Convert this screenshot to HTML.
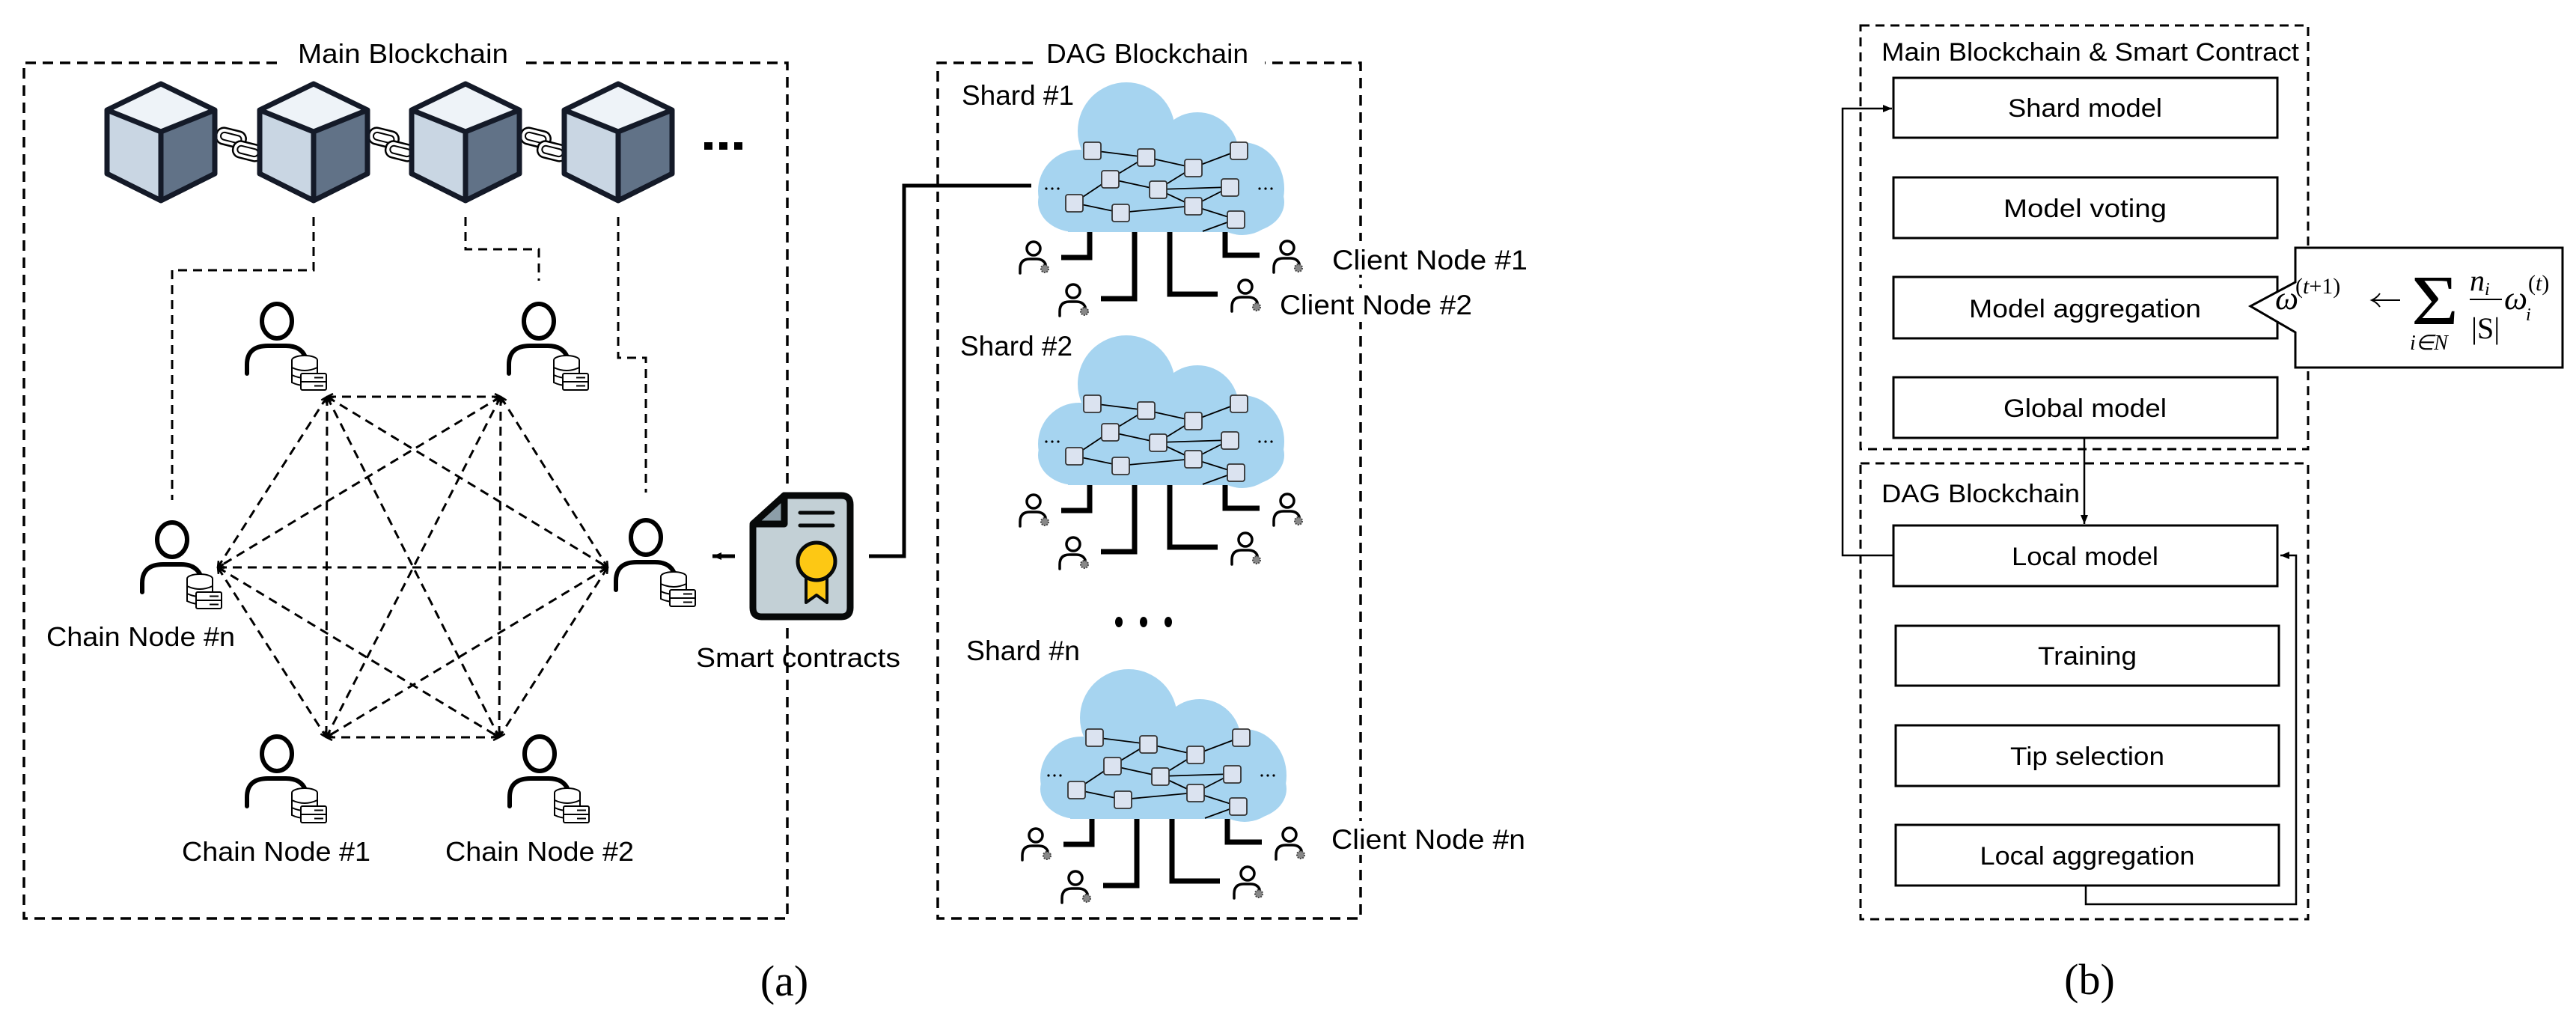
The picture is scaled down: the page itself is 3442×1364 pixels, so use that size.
<!DOCTYPE html>
<html><head><meta charset="utf-8"><style>
html,body{margin:0;padding:0;background:#fff;}
svg{display:block;}
text{font-family:"Liberation Sans",sans-serif;fill:#000;}
text.serif,.serif text{font-family:"Liberation Serif",serif;}
</style></head><body>
<svg width="3442" height="1364" viewBox="0 0 3442 1364" xmlns="http://www.w3.org/2000/svg">
<defs>
  <marker id="ah" markerWidth="10" markerHeight="10" refX="9" refY="5" orient="auto-start-reverse" markerUnits="userSpaceOnUse">
    <path d="M1,1 L9,5 L1,9" fill="none" stroke="#000" stroke-width="2.5"/>
  </marker>
  <marker id="af" markerWidth="14" markerHeight="14" refX="12" refY="7" orient="auto" markerUnits="userSpaceOnUse">
    <path d="M0,2 L12,7 L0,12 z" fill="#000"/>
  </marker>
  <g id="cube">
    <path d="M0,0 L72,35 L0,64 L-72,35 Z" fill="#eef3f8"/>
    <path d="M-72,35 L0,64 L0,156 L-72,120 Z" fill="#c9d6e3"/>
    <path d="M0,64 L72,35 L72,120 L0,156 Z" fill="#617287"/>
    <path d="M0,0 L72,35 L72,120 L0,156 L-72,120 L-72,35 Z M-72,35 L0,64 L72,35 M0,64 L0,156" fill="none" stroke="#141a28" stroke-width="7" stroke-linejoin="round"/>
  </g>
  <g id="links">
    <g transform="rotate(14 0 0)">
      <rect x="-4" y="-16" width="40" height="22" rx="10" fill="#fff" stroke="#000" stroke-width="2.5"/>
      <rect x="2" y="-10" width="28" height="10" rx="5" fill="none" stroke="#000" stroke-width="2"/>
      <rect x="22" y="-4" width="40" height="22" rx="10" fill="#fff" stroke="#000" stroke-width="2.5"/>
      <rect x="28" y="2" width="28" height="10" rx="5" fill="none" stroke="#000" stroke-width="2"/>
    </g>
  </g>
  <g id="bigperson">
    <ellipse cx="0" cy="0" rx="20" ry="23" fill="none" stroke="#000" stroke-width="6"/>
    <path d="M-40,70 L-40,58 Q-40,33 -12,33 L12,33 Q32,33 38,48" fill="none" stroke="#000" stroke-width="6" stroke-linecap="round"/>
    <g transform="translate(20,46)" fill="#fff" stroke="#000" stroke-width="2">
      <ellipse cx="17" cy="6" rx="17" ry="6"/>
      <path d="M0,6 V36 Q17,44 34,36 V6"/>
      <path d="M0,16 Q17,24 34,16 M0,26 Q17,34 34,26"/>
      <rect x="12" y="24" width="34" height="22" rx="2"/>
      <line x1="12" y1="35" x2="46" y2="35"/>
      <line x1="30" y1="29.5" x2="42" y2="29.5"/><line x1="30" y1="40.5" x2="42" y2="40.5"/>
    </g>
  </g>
  <g id="sperson">
    <circle cx="0" cy="0" r="9" fill="none" stroke="#000" stroke-width="3.5"/>
    <path d="M-18,33 L-18,27 Q-18,14 -5,14 L4,14 Q13,14 16,21" fill="none" stroke="#000" stroke-width="3.5" stroke-linecap="round"/>
    <circle cx="15" cy="27" r="5" fill="#888" stroke="#444" stroke-width="2" stroke-dasharray="2 1.5"/>
  </g>
  <g id="cloud">
    <circle cx="118" cy="65" r="65" fill="#a6d4f0"/>
    <circle cx="213" cy="95" r="55" fill="#a6d4f0"/>
    <ellipse cx="273" cy="142" rx="56" ry="62" fill="#a6d4f0"/>
    <circle cx="55" cy="145" r="55" fill="#a6d4f0"/>
    <rect x="0" y="120" width="329" height="80" rx="50" fill="#a6d4f0"/>
    <rect x="40" y="110" width="250" height="90" fill="#a6d4f0"/>
    <g stroke="#000" stroke-width="1.8" fill="none">
      <line x1="144" y1="100" x2="72" y2="91"/>
      <line x1="207" y1="114" x2="144" y2="100"/>
      <line x1="268" y1="91" x2="207" y2="114"/>
      <line x1="96" y1="129" x2="144" y2="100"/>
      <line x1="160" y1="143" x2="96" y2="129"/>
      <line x1="160" y1="143" x2="207" y2="114"/>
      <line x1="256" y1="140" x2="160" y2="143"/>
      <line x1="48" y1="161" x2="96" y2="129"/>
      <line x1="110" y1="174" x2="48" y2="161"/>
      <line x1="207" y1="165" x2="110" y2="174"/>
      <line x1="207" y1="165" x2="160" y2="143"/>
      <line x1="256" y1="140" x2="207" y2="165"/>
      <line x1="264" y1="183" x2="207" y2="165"/>
      <line x1="264" y1="183" x2="220" y2="199"/>
    </g>
    <g fill="#dbe3f0" stroke="#333" stroke-width="1.8">
      <rect x="61" y="80" width="23" height="23" rx="3"/>
      <rect x="133" y="89" width="23" height="23" rx="3"/>
      <rect x="196" y="103" width="23" height="23" rx="3"/>
      <rect x="257" y="80" width="23" height="23" rx="3"/>
      <rect x="85" y="118" width="23" height="23" rx="3"/>
      <rect x="149" y="132" width="23" height="23" rx="3"/>
      <rect x="245" y="129" width="23" height="23" rx="3"/>
      <rect x="37" y="150" width="23" height="23" rx="3"/>
      <rect x="99" y="163" width="23" height="23" rx="3"/>
      <rect x="196" y="154" width="23" height="23" rx="3"/>
      <rect x="253" y="172" width="23" height="23" rx="3"/>
    </g>
    <g fill="#000">
      <circle cx="11" cy="142" r="1.6"/><circle cx="19" cy="142" r="1.6"/><circle cx="27" cy="142" r="1.6"/>
      <circle cx="296" cy="142" r="1.6"/><circle cx="304" cy="142" r="1.6"/><circle cx="312" cy="142" r="1.6"/>
    </g>
    <g fill="none" stroke="#000" stroke-width="7">
      <path d="M69,200 V234 H31"/>
      <path d="M129,200 V289 H84"/>
      <path d="M176,200 V283 H240"/>
      <path d="M250,200 V231 H296"/>
    </g>
    <use href="#sperson" x="-6" y="222"/>
    <use href="#sperson" x="47" y="279"/>
    <use href="#sperson" x="277" y="273"/>
    <use href="#sperson" x="333" y="221"/>
  </g>
</defs>

<path d="M370,84 H32 V1227 H1052 V84 H700" fill="none" stroke="#000" stroke-width="3.5" stroke-dasharray="14 9"/>
<text x="398" y="84" font-size="36" textLength="281" lengthAdjust="spacingAndGlyphs">Main Blockchain</text>

<use href="#links" x="292" y="185"/>
<use href="#links" x="496" y="185"/>
<use href="#links" x="699" y="185"/>
<use href="#cube" x="215" y="112"/>
<use href="#cube" x="419" y="112"/>
<use href="#cube" x="622" y="112"/>
<use href="#cube" x="826" y="112"/>
<g fill="#000"><rect x="941" y="190" width="11" height="10"/><rect x="961" y="190" width="11" height="10"/><rect x="981" y="190" width="11" height="10"/></g>

<g fill="none" stroke="#000" stroke-width="3" stroke-dasharray="12 8">
  <path d="M419,290 V361 H230 V668"/>
  <path d="M622,290 V333 H720 V375"/>
  <path d="M826,290 V478 H863 V658"/>
</g>

<g fill="none" stroke="#000" stroke-width="3" stroke-dasharray="12 8" marker-start="url(#ah)" marker-end="url(#ah)">
  <line x1="437" y1="530" x2="669" y2="530"/>
  <line x1="437" y1="530" x2="291" y2="758"/>
  <line x1="437" y1="530" x2="812" y2="758"/>
  <line x1="437" y1="530" x2="436" y2="985"/>
  <line x1="437" y1="530" x2="667" y2="985"/>
  <line x1="669" y1="530" x2="291" y2="758"/>
  <line x1="669" y1="530" x2="812" y2="758"/>
  <line x1="669" y1="530" x2="436" y2="985"/>
  <line x1="669" y1="530" x2="667" y2="985"/>
  <line x1="291" y1="758" x2="812" y2="758"/>
  <line x1="291" y1="758" x2="436" y2="985"/>
  <line x1="291" y1="758" x2="667" y2="985"/>
  <line x1="812" y1="758" x2="436" y2="985"/>
  <line x1="812" y1="758" x2="667" y2="985"/>
  <line x1="436" y1="985" x2="667" y2="985"/>
</g>

<use href="#bigperson" x="370" y="429"/>
<use href="#bigperson" x="720" y="429"/>
<use href="#bigperson" x="230" y="721"/>
<use href="#bigperson" x="863" y="718"/>
<use href="#bigperson" x="370" y="1007"/>
<use href="#bigperson" x="721" y="1007"/>

<text x="62" y="863" font-size="36" textLength="252" lengthAdjust="spacingAndGlyphs">Chain Node #n</text>
<text x="243" y="1150" font-size="36" textLength="252" lengthAdjust="spacingAndGlyphs">Chain Node #1</text>
<text x="595" y="1150" font-size="36" textLength="252" lengthAdjust="spacingAndGlyphs">Chain Node #2</text>

<rect x="1040" y="655" width="30" height="180" fill="#fff"/>
<path d="M1048,662 H1124 Q1136,662 1136,674 V812 Q1136,824 1124,824 H1018 Q1006,824 1006,812 V702 Z" fill="#c3d0d6" stroke="#070909" stroke-width="9" stroke-linejoin="round"/>
<path d="M1048,662 V700 H1006 Z" fill="#8c9ea8" stroke="#070909" stroke-width="9" stroke-linejoin="round"/>
<line x1="1069" y1="685" x2="1113" y2="685" stroke="#070909" stroke-width="5" stroke-linecap="round"/>
<line x1="1069" y1="702" x2="1113" y2="702" stroke="#070909" stroke-width="5" stroke-linecap="round"/>
<path d="M1077,765 V805 L1091,795 L1105,805 V765 Z" fill="#fdc814" stroke="#070909" stroke-width="4" stroke-linejoin="round"/>
<circle cx="1091" cy="750" r="25" fill="#fdc814" stroke="#070909" stroke-width="5"/>
<line x1="982" y1="743" x2="952" y2="743" stroke="#000" stroke-width="5" marker-end="url(#af)"/>
<text x="930" y="891" font-size="36" textLength="273" lengthAdjust="spacingAndGlyphs">Smart contracts</text>
<path d="M1161,743 H1208 V248 H1378" fill="none" stroke="#000" stroke-width="5"/>

<path d="M1380,84 H1253 V1227 H1818 V84 H1690" fill="none" stroke="#000" stroke-width="3.5" stroke-dasharray="14 9"/>
<text x="1398" y="84" font-size="36" textLength="270" lengthAdjust="spacingAndGlyphs">DAG Blockchain</text>
<text x="1285" y="140" font-size="37" textLength="150" lengthAdjust="spacingAndGlyphs">Shard #1</text>
<text x="1283" y="475" font-size="37" textLength="150" lengthAdjust="spacingAndGlyphs">Shard #2</text>
<text x="1291" y="882" font-size="37" textLength="152" lengthAdjust="spacingAndGlyphs">Shard #n</text>
<g fill="#000"><ellipse cx="1495" cy="831" rx="5" ry="7"/><ellipse cx="1528" cy="831" rx="5" ry="7"/><ellipse cx="1561" cy="831" rx="5" ry="7"/></g>

<use href="#cloud" x="1387" y="110"/>
<use href="#cloud" x="1387" y="448"/>
<use href="#cloud" x="1390" y="894"/>

<rect x="1775" y="322" width="270" height="45" fill="#fff"/>
<text x="1780" y="360" font-size="37" textLength="261" lengthAdjust="spacingAndGlyphs">Client Node #1</text>
<rect x="1705" y="385" width="265" height="45" fill="#fff"/>
<text x="1710" y="420" font-size="37" textLength="257" lengthAdjust="spacingAndGlyphs">Client Node #2</text>
<rect x="1773" y="1097" width="270" height="45" fill="#fff"/>
<text x="1779" y="1134" font-size="37" textLength="259" lengthAdjust="spacingAndGlyphs">Client Node #n</text>

<text x="1048" y="1330" font-size="58" text-anchor="middle" class="serif">(a)</text>

<rect x="2486" y="34" width="598" height="566" fill="none" stroke="#000" stroke-width="3" stroke-dasharray="12 8"/>
<rect x="2486" y="619" width="598" height="609" fill="none" stroke="#000" stroke-width="3" stroke-dasharray="12 8"/>
<text x="2514" y="81" font-size="34" textLength="558" lengthAdjust="spacingAndGlyphs">Main Blockchain &amp; Smart Contract</text>
<text x="2514" y="671" font-size="34" textLength="265" lengthAdjust="spacingAndGlyphs">DAG Blockchain</text>

<g fill="#fff" stroke="#000" stroke-width="3">
  <rect x="2530" y="104" width="513" height="80"/>
  <rect x="2530" y="237" width="513" height="81"/>
  <rect x="2530" y="370" width="513" height="82"/>
  <rect x="2530" y="504" width="513" height="81"/>
  <rect x="2530" y="702" width="513" height="81"/>
  <rect x="2533" y="836" width="512" height="80"/>
  <rect x="2533" y="969" width="512" height="81"/>
  <rect x="2533" y="1102" width="512" height="81"/>
</g>
<g font-size="34" text-anchor="middle">
  <text x="2786" y="156" textLength="206" lengthAdjust="spacingAndGlyphs">Shard model</text>
  <text x="2786" y="290" textLength="218" lengthAdjust="spacingAndGlyphs">Model voting</text>
  <text x="2786" y="424" textLength="310" lengthAdjust="spacingAndGlyphs">Model aggregation</text>
  <text x="2786" y="557" textLength="218" lengthAdjust="spacingAndGlyphs">Global model</text>
  <text x="2786" y="755" textLength="196" lengthAdjust="spacingAndGlyphs">Local model</text>
  <text x="2789" y="888" textLength="132" lengthAdjust="spacingAndGlyphs">Training</text>
  <text x="2789" y="1022" textLength="206" lengthAdjust="spacingAndGlyphs">Tip selection</text>
  <text x="2789" y="1155" textLength="287" lengthAdjust="spacingAndGlyphs">Local aggregation</text>
</g>

<g fill="none" stroke="#000" stroke-width="2.5">
  <line x1="2785" y1="585" x2="2785" y2="700" marker-end="url(#af)"/>
  <path d="M2530,742 H2462 V145 H2528" marker-end="url(#af)"/>
  <path d="M2787,1183 V1208 H3068 V742 H3047" marker-end="url(#af)"/>
</g>

<path d="M3067,331 H3424 V491 H3067 V444 L3007,409 L3067,377 Z" fill="#fff" stroke="#000" stroke-width="3"/>
<g class="serif">
  <text x="3040" y="413" font-size="44" font-style="italic">ω</text>
  <text x="3067" y="392" font-size="30">(<tspan font-style="italic">t</tspan>+1)</text>
  <line x1="3207" y1="401" x2="3170" y2="401" stroke="#000" stroke-width="2"/>
  <path d="M3180,392 Q3176,398 3169,401 Q3176,404 3180,410" fill="none" stroke="#000" stroke-width="2"/>
  <text x="3222" y="433" font-size="94" textLength="63" lengthAdjust="spacingAndGlyphs">Σ</text>
  <text x="3220" y="467" font-size="28" font-style="italic">i∈N</text>
  <text x="3300" y="388" font-size="40" font-style="italic">n<tspan font-size="24" dy="6">i</tspan></text>
  <line x1="3300" y1="400" x2="3343" y2="400" stroke="#000" stroke-width="2"/>
  <text x="3302" y="452" font-size="40">|S|</text>
  <text x="3346" y="413" font-size="44" font-style="italic">ω</text>
  <text x="3375" y="428" font-size="24" font-style="italic">i</text>
  <text x="3378" y="388" font-size="30">(<tspan font-style="italic">t</tspan>)</text>
</g>

<text x="2792" y="1328" font-size="58" text-anchor="middle" class="serif">(b)</text>
</svg>
</body></html>
